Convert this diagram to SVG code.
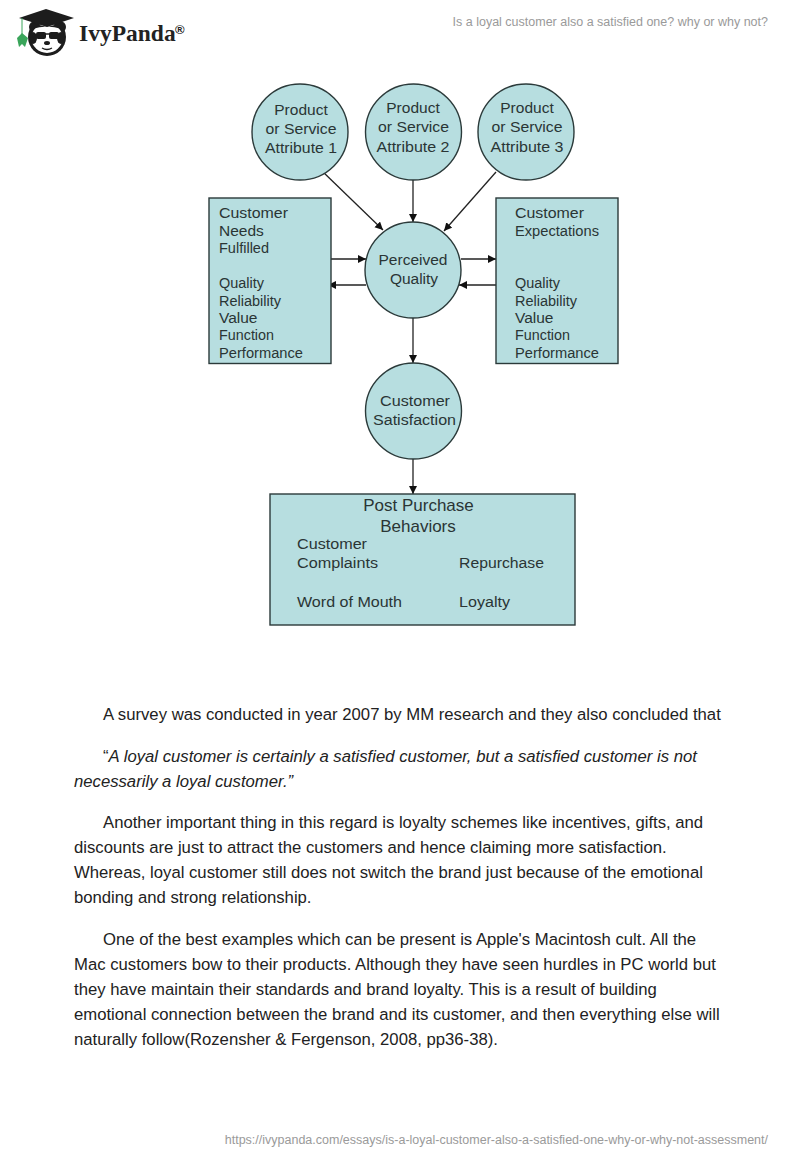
<svg xmlns="http://www.w3.org/2000/svg" width="800" height="1160" viewBox="0 0 800 1160">
<style>
.n{fill:#b7dee0;stroke:#2b3a3a;stroke-width:1.4}
.c{stroke:#222;stroke-width:1.3;fill:none;marker-end:url(#a)}
.d{font-family:"Liberation Sans",Arial,sans-serif;font-size:15.5px;fill:#2a3535}
.m{text-anchor:middle}
.b{font-family:"Liberation Sans",Arial,sans-serif;font-size:16.7px;fill:#222}
.h{font-family:"Liberation Sans",Arial,sans-serif;font-size:12.5px;fill:#9a9a9a}
</style>
<defs><marker id="a" markerUnits="userSpaceOnUse" markerWidth="9" markerHeight="9" refX="8" refY="4" orient="auto"><path d="M0 0L8 4L0 8Z" fill="#111"/></marker></defs>
<rect width="800" height="1160" fill="#fff"/>
<g id="logo">
<circle cx="35" cy="27" r="6" fill="#1d1d1d"/>
<circle cx="60" cy="27" r="6" fill="#1d1d1d"/>
<circle cx="47" cy="37" r="19" fill="#1d1d1d"/>
<ellipse cx="47" cy="38" rx="15.500" ry="15" fill="#fff"/>
<path d="M19 18L46 9L74 18L47 27Z" fill="#1d1d1d"/>
<path d="M32 23V29Q47 24 62 29V23L47 27Z" fill="#1d1d1d"/>
<path d="M22 18V35" stroke="#3aa55a" stroke-width="1"/>
<path d="M22 33L28 38L25 47L22 44L19 47L17 38Z" fill="#3aa55a"/>
<ellipse cx="33" cy="38" rx="4" ry="6" fill="#1d1d1d"/>
<ellipse cx="61" cy="38" rx="4" ry="6" fill="#1d1d1d"/>
<rect x="36" y="32" width="10" height="7" rx="2" fill="#1d1d1d"/>
<rect x="49" y="32" width="10" height="7" rx="2" fill="#1d1d1d"/>
<path d="M45 34H50" stroke="#1d1d1d" stroke-width="1.500"/>
<ellipse cx="47" cy="43" rx="3" ry="2" fill="#1d1d1d"/>
<path d="M42 48Q47 51 52 48" stroke="#1d1d1d" stroke-width="1.300" fill="none"/>
<text x="79" y="41" font-family="Liberation Serif,serif" font-weight="700" font-size="23.500" fill="#222">IvyPanda</text>
<text x="175" y="34" font-family="Liberation Sans,sans-serif" font-size="13" font-weight="700" fill="#222">®</text>
</g>
<text class="h" x="768" y="26" text-anchor="end">Is a loyal customer also a satisfied one? why or why not?</text>
<g id="connectors">
<path class="c" d="M322 171L383 230"/>
<path class="c" d="M413 180V222"/>
<path class="c" d="M496 172L444 231"/>
<path class="c" d="M331 259H366"/>
<path class="c" d="M366 285H328"/>
<path class="c" d="M461 259H496"/>
<path class="c" d="M496 285H459"/>
<path class="c" d="M413 318V363"/>
<path class="c" d="M413 459V494"/>
</g>
<g id="attr1"><circle class="n" cx="300" cy="132" r="48"/><text class="d m" x="301" y="115">Product</text><text class="d m" x="301" y="134" textLength="71" lengthAdjust="spacingAndGlyphs">or Service</text><text class="d m" x="301" y="153" textLength="72" lengthAdjust="spacingAndGlyphs">Attribute 1</text></g>
<g id="attr2"><circle class="n" cx="413.500" cy="132" r="48"/><text class="d m" x="413" y="113">Product</text><text class="d m" x="413.500" y="132" textLength="71" lengthAdjust="spacingAndGlyphs">or Service</text><text class="d m" x="413" y="152" textLength="73" lengthAdjust="spacingAndGlyphs">Attribute 2</text></g>
<g id="attr3"><circle class="n" cx="526" cy="132" r="48"/><text class="d m" x="527" y="113">Product</text><text class="d m" x="527" y="132" textLength="71" lengthAdjust="spacingAndGlyphs">or Service</text><text class="d m" x="527" y="152" textLength="73" lengthAdjust="spacingAndGlyphs">Attribute 3</text></g>
<g id="needs"><rect class="n" x="209" y="198" width="122" height="165.500"/>
<text class="d" x="219" y="218" textLength="69" lengthAdjust="spacingAndGlyphs">Customer</text><text class="d" x="219" y="236">Needs</text><text class="d" x="219" y="253" textLength="50" lengthAdjust="spacingAndGlyphs">Fulfilled</text><text class="d" x="219" y="288" textLength="45" lengthAdjust="spacingAndGlyphs">Quality</text><text class="d" x="219" y="306" textLength="62" lengthAdjust="spacingAndGlyphs">Reliability</text><text class="d" x="219" y="323">Value</text><text class="d" x="219" y="340" textLength="55" lengthAdjust="spacingAndGlyphs">Function</text><text class="d" x="219" y="358" textLength="84" lengthAdjust="spacingAndGlyphs">Performance</text></g>
<g id="expect"><rect class="n" x="496" y="198" width="122" height="165.500"/>
<text class="d" x="515" y="218" textLength="69" lengthAdjust="spacingAndGlyphs">Customer</text><text class="d" x="515" y="236" textLength="84" lengthAdjust="spacingAndGlyphs">Expectations</text><text class="d" x="515" y="288" textLength="45" lengthAdjust="spacingAndGlyphs">Quality</text><text class="d" x="515" y="306" textLength="62" lengthAdjust="spacingAndGlyphs">Reliability</text><text class="d" x="515" y="323">Value</text><text class="d" x="515" y="340" textLength="55" lengthAdjust="spacingAndGlyphs">Function</text><text class="d" x="515" y="358" textLength="84" lengthAdjust="spacingAndGlyphs">Performance</text></g>
<g id="perceived"><circle class="n" cx="413" cy="270" r="48"/><text class="d m" x="413" y="265" textLength="69" lengthAdjust="spacingAndGlyphs">Perceived</text><text class="d m" x="414" y="284">Quality</text></g>
<g id="satisfaction"><circle class="n" cx="413.500" cy="411" r="48"/><text class="d m" x="415" y="406" textLength="70" lengthAdjust="spacingAndGlyphs">Customer</text><text class="d m" x="414.500" y="425" textLength="83" lengthAdjust="spacingAndGlyphs">Satisfaction</text></g>
<g id="post"><rect class="n" x="270" y="494" width="305" height="131"/>
<text class="d m" x="418.500" y="511" style="font-size:17px">Post Purchase</text><text class="d m" x="418" y="532" style="font-size:17px">Behaviors</text>
<text class="d" x="297" y="549" textLength="70" lengthAdjust="spacingAndGlyphs">Customer</text><text class="d" x="297" y="568" textLength="81" lengthAdjust="spacingAndGlyphs">Complaints</text><text class="d" x="297" y="607" textLength="105" lengthAdjust="spacingAndGlyphs">Word of Mouth</text><text class="d" x="459" y="568" textLength="85" lengthAdjust="spacingAndGlyphs">Repurchase</text><text class="d" x="459" y="607" textLength="51" lengthAdjust="spacingAndGlyphs">Loyalty</text></g>
<g id="body">
<text class="b" x="103" y="720">A survey was conducted in year 2007 by MM research and they also concluded that</text>
<text class="b" x="103" y="762">“<tspan font-style="italic">A loyal customer is certainly a satisfied customer, but a satisfied customer is not</tspan></text>
<text class="b" x="74" y="787" font-style="italic">necessarily a loyal customer.”</text>
<text class="b" x="103" y="828">Another important thing in this regard is loyalty schemes like incentives, gifts, and</text>
<text class="b" x="74" y="853">discounts are just to attract the customers and hence claiming more satisfaction.</text>
<text class="b" x="74" y="878">Whereas, loyal customer still does not switch the brand just because of the emotional</text>
<text class="b" x="74" y="903">bonding and strong relationship.</text>
<text class="b" x="103" y="945">One of the best examples which can be present is Apple's Macintosh cult. All the</text>
<text class="b" x="74" y="970">Mac customers bow to their products. Although they have seen hurdles in PC world but</text>
<text class="b" x="74" y="995">they have maintain their standards and brand loyalty. This is a result of building</text>
<text class="b" x="74" y="1020">emotional connection between the brand and its customer, and then everything else will</text>
<text class="b" x="74" y="1045">naturally follow(Rozensher &amp; Fergenson, 2008, pp36-38).</text>
</g>
<text class="h" x="768" y="1144" text-anchor="end">https://ivypanda.com/essays/is-a-loyal-customer-also-a-satisfied-one-why-or-why-not-assessment/</text>
</svg>
